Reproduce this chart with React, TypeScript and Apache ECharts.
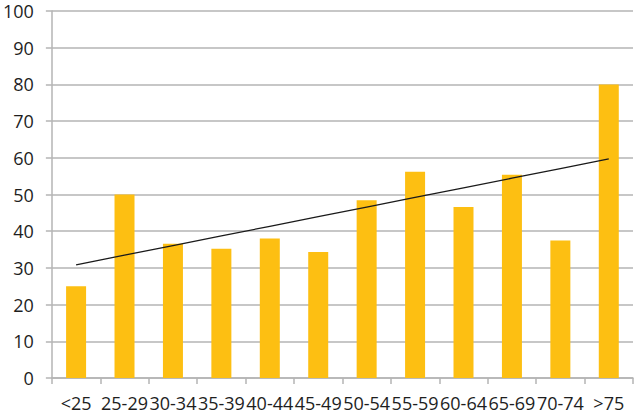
import React, { useEffect, useRef } from "react";
import * as echarts from "echarts";

const categories = ["<25", "25-29", "30-34", "35-39", "40-44", "45-49", "50-54", "55-59", "60-64", "65-69", "70-74", ">75"];
const values = [25, 50, 36.6, 35.2, 38, 34.3, 48.4, 56.2, 46.6, 55.4, 37.5, 80];
const yTicks = { min: 0, max: 100, interval: 10 };

function linearTrend(ys: number[]): number[] {
  const n = ys.length;
  const mx = (n - 1) / 2;
  const my = ys.reduce((a, b) => a + b, 0) / n;
  let sxy = 0, sxx = 0;
  ys.forEach((y, i) => { sxy += (i - mx) * (y - my); sxx += (i - mx) * (i - mx); });
  const slope = sxy / sxx;
  return ys.map((_, i) => +(my + slope * (i - mx)).toFixed(2));
}

export default function App() {
  const ref = useRef<HTMLDivElement>(null);
  useEffect(() => {
    if (!ref.current) return;
    const chart = echarts.init(ref.current, undefined, { renderer: "svg" });
    const font = "'Open Sans', sans-serif";
    const gray = "#b4b4b4";
    chart.setOption({
      animation: false,
      grid: { left: 50, right: 1, top: 11, bottom: 39, containLabel: false },
      xAxis: {
        type: "category",
        data: categories,
        boundaryGap: true,
        axisLine: { lineStyle: { color: gray, width: 1.5 } },
        axisTick: { show: true, alignWithLabel: false, length: 6, lineStyle: { color: gray, width: 1.5 } },
        axisLabel: { interval: 0, color: "#1e1e1e", fontFamily: font, fontSize: 18, lineHeight: 18, margin: 16, hideOverlap: false },
      },
      yAxis: {
        type: "value",
        min: yTicks.min,
        max: yTicks.max,
        interval: yTicks.interval,
        axisLine: { show: true, lineStyle: { color: gray, width: 1.5 } },
        axisTick: { show: true, length: 6, lineStyle: { color: gray, width: 1.5 } },
        splitLine: { show: true, lineStyle: { color: gray, width: 1.5 } },
        axisLabel: { color: "#1e1e1e", fontFamily: font, fontSize: 18, lineHeight: 18, margin: 18 },
      },
      series: [
        {
          type: "bar",
          data: values,
          barWidth: 20,
          itemStyle: { color: "#FDBF12" },
        },
        {
          type: "line",
          data: linearTrend(values),
          symbol: "none",
          lineStyle: { color: "#1a1a1a", width: 1.3 },
          z: 5,
        },
      ],
    });
    return () => chart.dispose();
  }, []);
  return <div ref={ref} style={{ width: 634, height: 417, position: "absolute", left: 0, top: 0 }} />;
}
